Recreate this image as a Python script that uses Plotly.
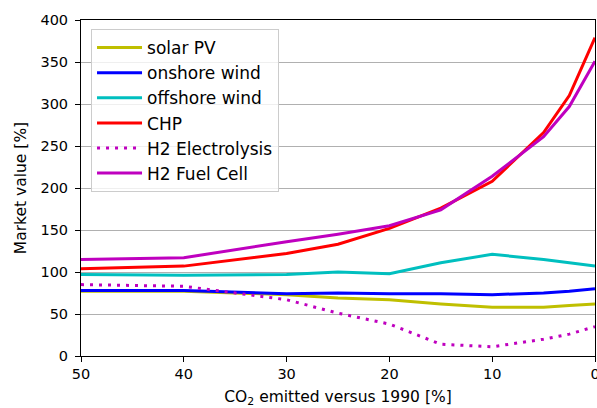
import plotly.graph_objects as go

co2 = [50, 40, 30, 25, 20, 15, 10, 5, 2.5, 0]
solar_pv = [77, 77, 73, 69, 67, 62, 58, 58, 60, 62]
onshore_wind = [78, 78, 74, 75, 74, 74, 73, 75, 77, 80]
offshore_wind = [97, 96, 97, 100, 98, 111, 121, 115, 111, 107]
chp = [104, 107, 122, 133, 152, 176, 208, 266, 310, 379]
h2_electrolysis = [85, 83, 67, 51, 38, 14, 11, 20, 26, 35]
h2_fuel_cell = [115, 117, 136, 145, 155, 174, 214, 261, 297, 351]

series = [
    ("solar PV", solar_pv, "#bfbf00", "solid"),
    ("onshore wind", onshore_wind, "#0000ff", "solid"),
    ("offshore wind", offshore_wind, "#00bfbf", "solid"),
    ("CHP", chp, "#ff0000", "solid"),
    ("H2 Electrolysis", h2_electrolysis, "#bf00bf", "3px,6px"),
    ("H2 Fuel Cell", h2_fuel_cell, "#bf00bf", "solid"),
]

fig = go.Figure()
for i, (name, vals, color, dash) in enumerate(series):
    fig.add_trace(go.Scatter(x=co2, y=vals, mode="lines", name=name,
                             legendgroup=f"g{i}",
                             line=dict(color=color, width=3, dash=dash)))

font = "DejaVu Sans, sans-serif"
fig.update_layout(
    width=597, height=408,
    margin=dict(l=81, r=2, t=20, b=52, autoexpand=False),
    paper_bgcolor="white", plot_bgcolor="white",
    font=dict(family=font, size=14.5, color="black"),
    legend=dict(x=0.0195, y=0.973, xanchor="left", yanchor="top",
                bgcolor="rgba(255,255,255,0.8)", bordercolor="#cccccc",
                borderwidth=1, font=dict(size=17), itemwidth=45,
                tracegroupgap=0),
    xaxis=dict(range=[50, 0], tickvals=[50, 40, 30, 20, 10, 0],
               ticks="outside", ticklen=5, tickwidth=1, tickcolor="black",
               showline=True, linecolor="black", linewidth=1, mirror=True,
               showgrid=False, zeroline=False, automargin=False,
               ticklabeloverflow="allow",
               title=dict(text="CO<sub>2</sub> emitted versus 1990 [%]", standoff=12,
                          font=dict(size=15.5)),
               tickfont=dict(size=14.5)),
    yaxis=dict(range=[0, 400], tickvals=[0, 50, 100, 150, 200, 250, 300, 350, 400],
               ticks="outside", ticklen=5, tickwidth=1, tickcolor="black",
               showline=True, linecolor="black", linewidth=1, mirror=True,
               showgrid=True, gridcolor="#b0b0b0", gridwidth=1, zeroline=False,
               automargin=False, ticklabeloverflow="allow", ticklabelstandoff=4,
               title=dict(text="Market value [%]", standoff=9, font=dict(size=15.5)),
               tickfont=dict(size=14.5)),
)

fig.write_html("out.html", config={"displayModeBar": False},
               post_script="document.body.style.margin='0';document.body.style.overflow='hidden';")
